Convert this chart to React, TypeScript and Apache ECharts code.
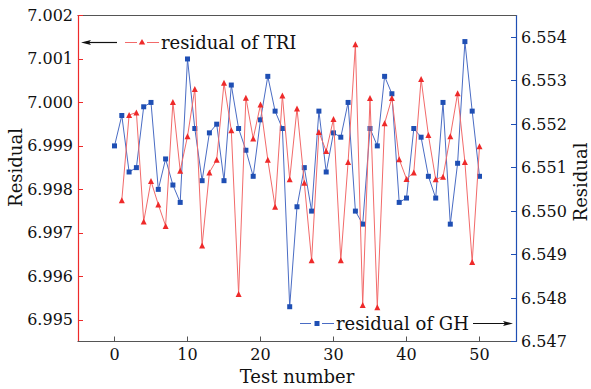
import React, { useEffect, useRef } from "react";
import * as echarts from "echarts";

const ghStart = 0;
const ghValues = [
  6.5515, 6.5522, 6.5509, 6.551, 6.5524, 6.5525, 6.5505, 6.5512, 6.5506, 6.5502,
  6.5535, 6.5519, 6.5507, 6.5518, 6.552, 6.5507, 6.5529, 6.5519, 6.5514, 6.5508,
  6.5521, 6.5531, 6.5523, 6.5519, 6.5478, 6.5501, 6.551, 6.55, 6.5523, 6.5509,
  6.5518, 6.5517, 6.5525, 6.55, 6.5497, 6.5519, 6.5515, 6.5531, 6.5527, 6.5502,
  6.5503, 6.5519, 6.5517, 6.5508, 6.5503, 6.5525, 6.5497, 6.5511, 6.5539, 6.5523,
  6.5508,
];

const triStart = 1;
const triValues = [
  6.99775, 6.99971, 6.99977, 6.99726, 6.99819, 6.99765, 6.99716, 7.00001, 6.99843,
  6.99922, 7.00031, 6.99671, 6.99839, 6.99868, 7.00045, 6.99936, 6.99559, 7.00011,
  6.99917, 6.99995, 6.99868, 6.9976, 7.00016, 6.99823, 6.99986, 6.99815, 6.99637,
  6.99932, 6.99888, 6.99962, 6.99637, 6.99863, 7.00134, 6.99534, 7.0001, 6.99529,
  6.99952, 7.0001, 6.99869, 6.99824, 6.99839, 7.00054, 6.99925, 6.99823, 6.99829,
  6.99922, 7.00021, 6.99863, 6.99633, 6.99899,
];

const xTicks = [0, 10, 20, 30, 40, 50];
const leftTicks = [6.995, 6.996, 6.997, 6.998, 6.999, 7.0, 7.001, 7.002];
const rightTicks = [6.547, 6.548, 6.549, 6.55, 6.551, 6.552, 6.553, 6.554];

const triName = "residual of TRI";
const ghName = "residual of GH";
const yName = "Residual";
const xName = "Test number";

const FONT = "DejaVu Serif";
const RED = "#ee2a2a";
const RED_LINE = "#f26a6a";
const BLUE = "#1f4fb4";
const BLUE_LINE = "#4a6cc4";
const AXIS_GRAY = "#555555";

export default function App() {
  const ref = useRef<HTMLDivElement>(null);
  useEffect(() => {
    if (!ref.current) return;
    const chart = echarts.init(ref.current, undefined, { renderer: "svg" });
    const gridL = 78, gridR = 75, gridT = 15.5, gridB = 47.5;
    const plotRight = 591 - gridR;
    chart.setOption({
      animation: false,
      grid: { left: gridL, right: gridR, top: gridT, bottom: gridB, containLabel: false, outerBoundsMode: "none" },
      textStyle: { fontFamily: FONT },
      xAxis: [
        {
          type: "value",
          min: -5,
          max: 55,
          position: "bottom",
          name: xName,
          nameLocation: "middle",
          nameGap: 26,
          nameTextStyle: { fontFamily: FONT, fontSize: 18, color: "#111" },
          axisLine: { show: true, onZero: false, lineStyle: { color: AXIS_GRAY, width: 1.2 } },
          axisTick: { show: true, inside: true, length: 5, customValues: xTicks, lineStyle: { color: AXIS_GRAY } },
          axisLabel: { customValues: xTicks, fontFamily: FONT, fontSize: 16, color: "#111", margin: 5 },
          splitLine: { show: false },
        },
        {
          type: "value",
          min: -5,
          max: 55,
          position: "top",
          axisLine: { show: true, onZero: false, lineStyle: { color: AXIS_GRAY, width: 1.2 } },
          axisTick: { show: false },
          axisLabel: { show: false },
          splitLine: { show: false },
        },
      ],
      yAxis: [
        {
          type: "value",
          min: 6.9945,
          max: 7.002,
          position: "left",
          axisLine: { show: true, onZero: false, lineStyle: { color: RED, width: 1.2 } },
          axisTick: { show: true, inside: true, length: 5, customValues: leftTicks, lineStyle: { color: RED } },
          axisLabel: {
            customValues: leftTicks,
            fontFamily: FONT,
            fontSize: 16,
            color: "#111",
            margin: 5,
            formatter: (v: number) => v.toFixed(3),
          },
          splitLine: { show: false },
        },
        {
          type: "value",
          min: 6.547,
          max: 6.5545,
          position: "right",
          axisLine: { show: true, onZero: false, lineStyle: { color: BLUE, width: 1.2 } },
          axisTick: { show: true, inside: true, length: 5, customValues: rightTicks, lineStyle: { color: BLUE } },
          axisLabel: {
            customValues: rightTicks,
            fontFamily: FONT,
            fontSize: 16,
            color: "#111",
            margin: 5,
            formatter: (v: number) => v.toFixed(3),
          },
          splitLine: { show: false },
        },
      ],
      series: [
        {
          name: ghName,
          type: "line",
          xAxisIndex: 0,
          yAxisIndex: 1,
          data: ghValues.map((v, i) => [ghStart + i, v]),
          symbol: "rect",
          symbolSize: 5,
          lineStyle: { color: BLUE_LINE, width: 1 },
          itemStyle: { color: BLUE },
          z: 2,
        },
        {
          name: triName,
          type: "line",
          xAxisIndex: 0,
          yAxisIndex: 0,
          data: triValues.map((v, i) => [triStart + i, v]),
          symbol: "triangle",
          symbolSize: 6,
          lineStyle: { color: RED_LINE, width: 1 },
          itemStyle: { color: RED },
          z: 3,
        },
      ],
      graphic: [
        {
          type: "text",
          x: 15,
          y: 167.5,
          rotation: Math.PI / 2,
          style: { text: yName, fontFamily: FONT, fontSize: 18, fill: "#111", align: "center", verticalAlign: "middle" },
        },
        {
          type: "text",
          x: 580,
          y: 182,
          rotation: Math.PI / 2,
          style: { text: yName, fontFamily: FONT, fontSize: 18, fill: "#111", align: "center", verticalAlign: "middle" },
        },
        { type: "line", shape: { x1: 86, y1: 42.5, x2: 117, y2: 42.5 }, style: { stroke: "#111", lineWidth: 1.2 } },
        { type: "polygon", shape: { points: [[81, 42.5], [91, 40], [89, 42.5], [91, 45]] }, style: { fill: "#111" } },
        { type: "line", shape: { x1: 125, y1: 42.5, x2: 137, y2: 42.5 }, style: { stroke: RED_LINE, lineWidth: 1 } },
        { type: "line", shape: { x1: 147, y1: 42.5, x2: 159, y2: 42.5 }, style: { stroke: RED_LINE, lineWidth: 1 } },
        { type: "polygon", shape: { points: [[142, 39], [145.2, 44.6], [138.8, 44.6]] }, style: { fill: RED } },
        {
          type: "text",
          x: 161,
          y: 42.5,
          style: { text: triName, fontFamily: FONT, fontSize: 18, fill: "#111", verticalAlign: "middle", align: "left" },
        },
        { type: "line", shape: { x1: 300, y1: 323.5, x2: 311, y2: 323.5 }, style: { stroke: BLUE_LINE, lineWidth: 1 } },
        { type: "line", shape: { x1: 322, y1: 323.5, x2: 334, y2: 323.5 }, style: { stroke: BLUE_LINE, lineWidth: 1 } },
        { type: "rect", shape: { x: 314.5, y: 321, width: 5, height: 5 }, style: { fill: BLUE } },
        {
          type: "text",
          x: 336,
          y: 323.5,
          style: { text: ghName, fontFamily: FONT, fontSize: 18, fill: "#111", verticalAlign: "middle", align: "left" },
        },
        { type: "line", shape: { x1: 473, y1: 323.5, x2: 506, y2: 323.5 }, style: { stroke: "#111", lineWidth: 1.2 } },
        {
          type: "polygon",
          shape: { points: [[plotRight - 3, 323.5], [plotRight - 13, 321], [plotRight - 11, 323.5], [plotRight - 13, 326]] },
          style: { fill: "#111" },
        },
      ],
    });
    return () => chart.dispose();
  }, []);
  return (
    <div style={{ position: "absolute", left: 0, top: 0, width: 591, height: 389 }}>
      <div ref={ref} style={{ width: 591, height: 389 }} />
    </div>
  );
}
